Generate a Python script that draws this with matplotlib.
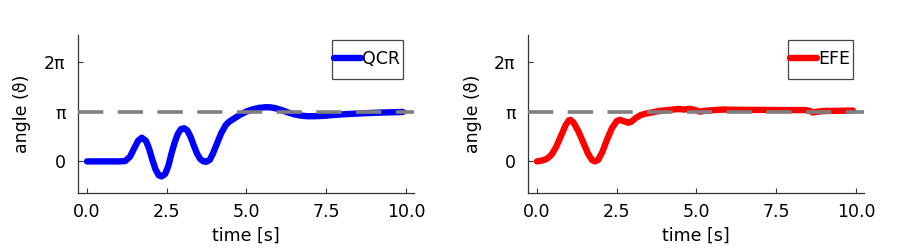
import numpy as np
import matplotlib
matplotlib.use('Agg')
import matplotlib.pyplot as plt
from matplotlib.patches import Rectangle

# QCR trajectory (time [s], angle [rad])
t_qcr = [0.0, 0.5, 1.0, 1.2, 1.35, 1.5, 1.6, 1.72, 1.85, 1.95, 2.05, 2.15, 2.25,
         2.34, 2.45, 2.55, 2.65, 2.75, 2.85, 2.95, 3.05, 3.15, 3.25, 3.35, 3.45,
         3.55, 3.65, 3.75, 3.85, 3.95, 4.05, 4.2, 4.35, 4.45, 4.6, 4.8, 5.0, 5.2,
         5.4, 5.6, 5.75, 5.9, 6.1, 6.3, 6.5, 6.7, 6.9, 7.1, 7.4, 7.8, 8.2, 8.7,
         9.2, 9.6, 9.9]
th_qcr = [0.0, 0.0, 0.0, 0.02, 0.3, 0.9, 1.3, 1.5, 1.3, 0.8, 0.1, -0.5, -0.88,
          -0.95, -0.8, -0.3, 0.5, 1.2, 1.75, 2.05, 2.1, 1.95, 1.55, 1.0, 0.5,
          0.15, 0.0, -0.02, 0.1, 0.5, 1.0, 1.75, 2.3, 2.5, 2.7, 2.95, 3.16, 3.3,
          3.39, 3.43, 3.42, 3.37, 3.25, 3.1, 2.98, 2.9, 2.86, 2.86, 2.88, 2.95,
          3.0, 3.05, 3.09, 3.11, 3.13]

# EFE trajectory
t_efe = [0.0, 0.15, 0.3, 0.45, 0.6, 0.75, 0.9, 1.0, 1.05, 1.15, 1.3, 1.45, 1.6,
         1.72, 1.82, 1.92, 2.05, 2.2, 2.35, 2.5, 2.6, 2.72, 2.86, 2.95, 3.1,
         3.25, 3.4, 3.6, 3.8, 4.0, 4.2, 4.45, 4.6, 4.8, 4.95, 5.1, 5.25, 5.5,
         5.8, 6.2, 6.6, 7.0, 7.5, 8.0, 8.4, 8.55, 8.65, 8.8, 9.0, 9.4, 9.9]
th_efe = [0.0, 0.05, 0.15, 0.4, 0.9, 1.6, 2.3, 2.6, 2.63, 2.45, 1.9, 1.2, 0.5,
          0.1, 0.0, 0.1, 0.6, 1.4, 2.1, 2.55, 2.63, 2.55, 2.45, 2.5, 2.75,
          2.93, 3.02, 3.1, 3.18, 3.23, 3.27, 3.32, 3.28, 3.33, 3.25, 3.15, 3.2,
          3.24, 3.28, 3.27, 3.26, 3.26, 3.25, 3.25, 3.25, 3.2, 3.1, 3.15, 3.19,
          3.2, 3.22]

series = [('QCR', t_qcr, th_qcr, '#0000ff'),
          ('EFE', t_efe, th_efe, '#ff0000')]

xticks = [0, 2.5, 5, 7.5, 10]
xticklabels = ['0.0', '2.5', '5.0', '7.5', '10.0']
yticks = [0, np.pi, 2 * np.pi]
yticklabels = ['0', 'π', '2π']

plt.rcParams['font.family'] = 'DejaVu Sans'
fig = plt.figure(figsize=(9, 2.5), dpi=100)
lefts = [78 / 900, 528 / 900]
legends = []
for (name, t, th, c), left in zip(series, lefts):
    ax = fig.add_axes([left, 57 / 250, 336 / 900, 158 / 250])
    ax.plot(t, th, color=c, linewidth=4.6, solid_capstyle='round',
            label=name, zorder=2)
    ax.axhline(np.pi, color='#7f7f7f', linewidth=2.6, dashes=(7, 4),
               zorder=3)
    ax.set_xlim(-0.28, 10.25)
    ax.set_ylim(-2, 8)
    ax.set_xticks(xticks, xticklabels)
    ax.set_yticks(yticks, yticklabels)
    ax.tick_params(direction='in', length=3.5, width=0.8, labelsize=12.5,
                   color='#333333')
    ax.tick_params(axis='y', pad=9)
    ax.tick_params(axis='x', pad=7.5)
    for s in ['top', 'right']:
        ax.spines[s].set_visible(False)
    for s in ['left', 'bottom']:
        ax.spines[s].set_color('#333333')
        ax.spines[s].set_linewidth(0.9)
    ax.set_xlabel('time [s]', fontsize=12.5, labelpad=3.5)
    ax.set_ylabel('angle (ϑ)', fontsize=12.5, labelpad=9)
    # tight legend, box drawn separately so it hugs the entry like the original
    leg = ax.legend(loc='center right', bbox_to_anchor=(0.968 - 3 / 336, 0.845),
                    borderaxespad=0, frameon=False, fontsize=12.5,
                    handlelength=1.55, handletextpad=0.05, borderpad=0)
    legends.append((ax, leg))

fig.canvas.draw()
r = fig.canvas.get_renderer()
for ax, leg in legends:
    bb = leg.get_window_extent(r).transformed(ax.transAxes.inverted())
    x0 = bb.x0 - 2 / 336
    ax.add_patch(Rectangle((x0, 0.721), 0.968 - x0, 0.247,
                           transform=ax.transAxes, facecolor='white',
                           edgecolor='#444444', linewidth=0.9, zorder=4))
    leg.set_zorder(5)

fig.savefig('out.png', dpi=100)
